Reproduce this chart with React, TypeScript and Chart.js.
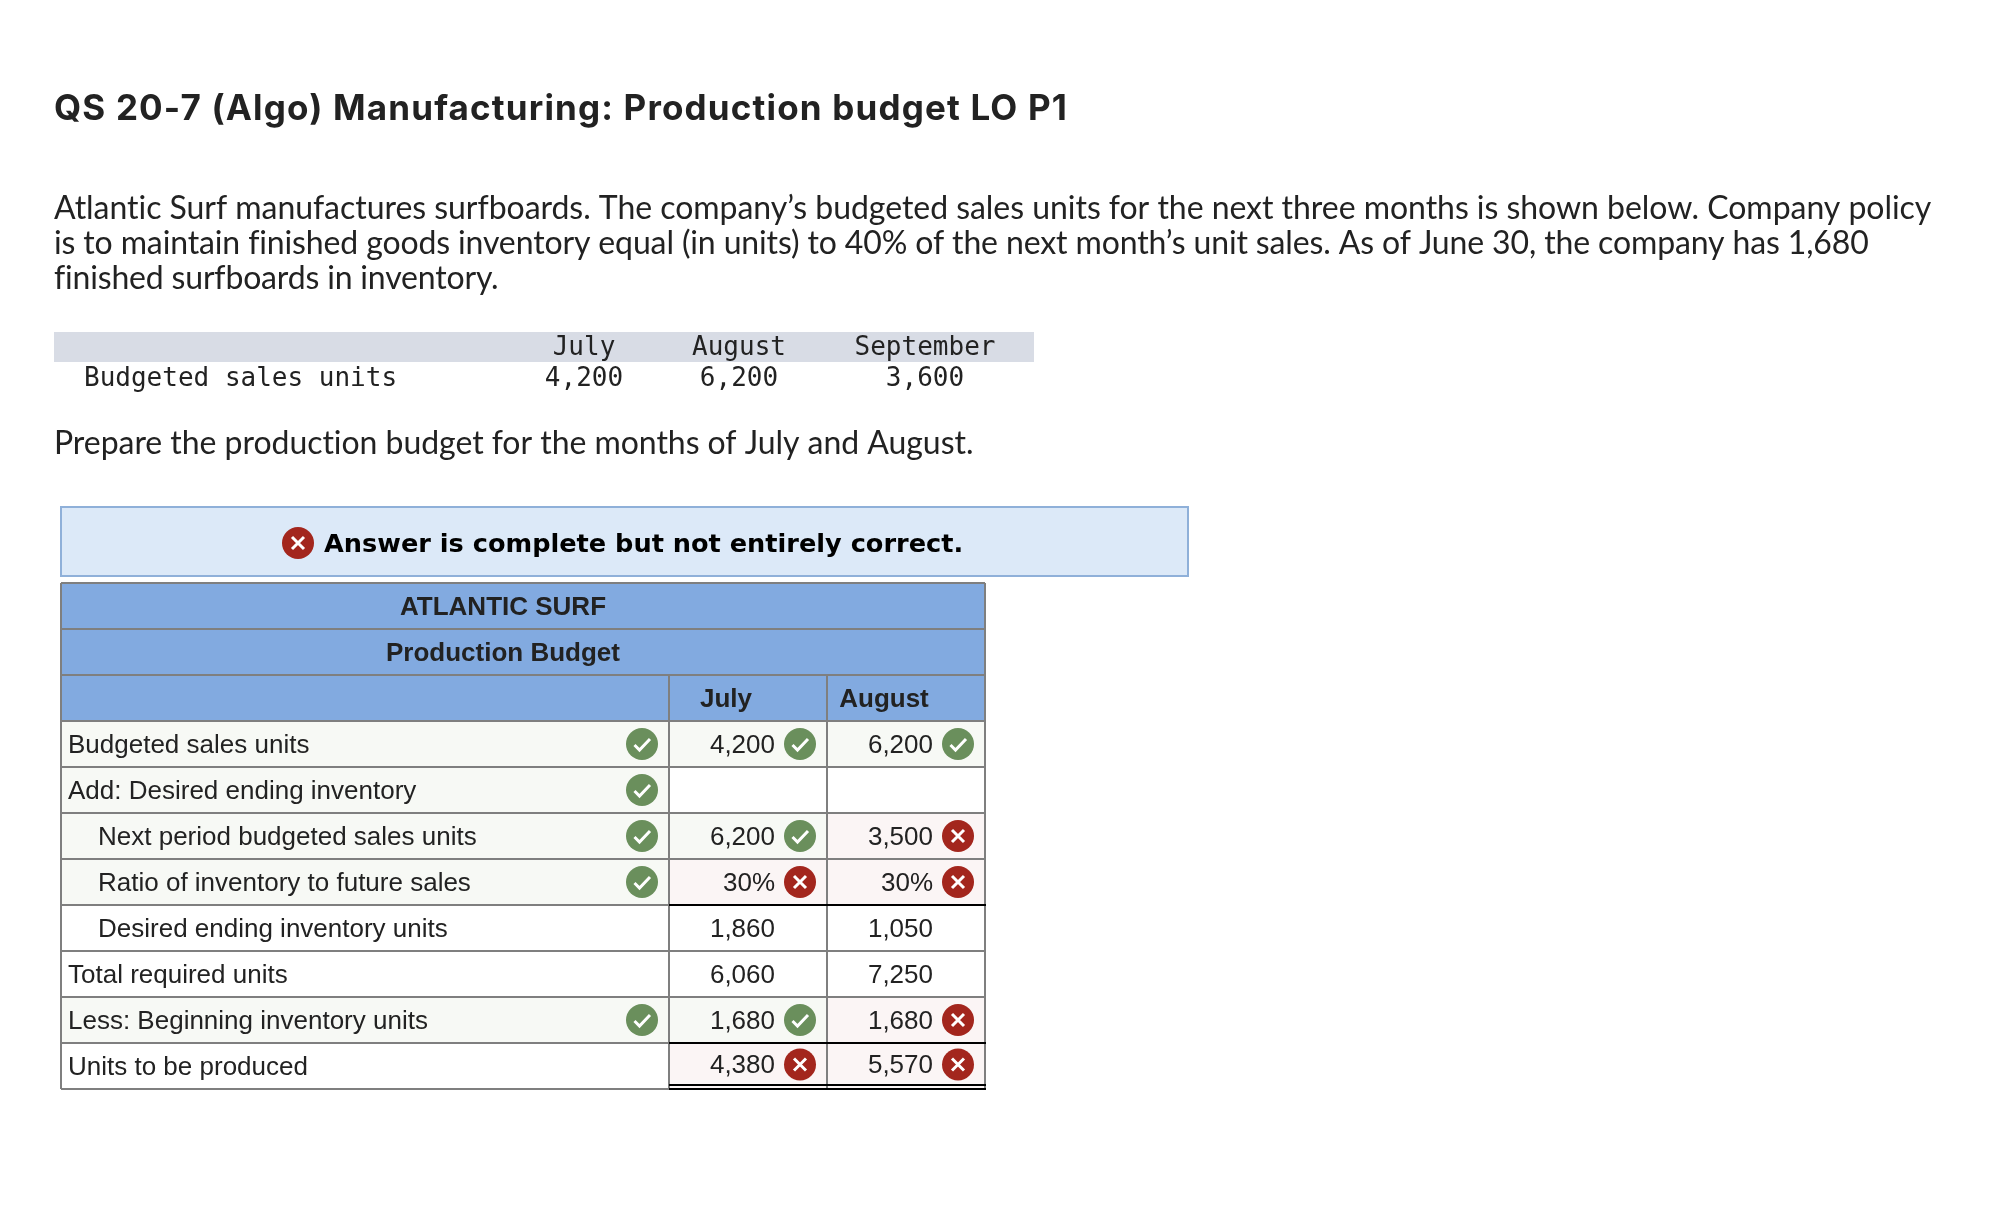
import React, { useEffect, useRef } from 'react';
import { Chart, registerables } from 'chart.js';

Chart.register(...registerables);

const title = 'QS 20-7 (Algo) Manufacturing: Production budget LO P1';
const introLines = [
  'Atlantic Surf manufactures surfboards. The company\u2019s budgeted sales units for the next three months is shown below. Company policy',
  'is to maintain finished goods inventory equal (in units) to 40% of the next month\u2019s unit sales. As of June 30, the company has 1,680',
  'finished surfboards in inventory.',
];
const prompt = 'Prepare the production budget for the months of July and August.';
const banner = 'Answer is complete but not entirely correct.';

const budgetMonths = ['July', 'August', 'September'];
const budgetLabel = 'Budgeted sales units';
const budgetUnits = ['4,200', '6,200', '3,600'];

const headerRows = ['ATLANTIC SURF', 'Production Budget', ''];
const columnHeads = ['July', 'August'];
const rowLabels = [
  'Budgeted sales units',
  'Add: Desired ending inventory',
  'Next period budgeted sales units',
  'Ratio of inventory to future sales',
  'Desired ending inventory units',
  'Total required units',
  'Less: Beginning inventory units',
  'Units to be produced',
];
const indented = [false, false, true, true, true, false, false, false];
const julyValues = ['4,200', '', '6,200', '30%', '1,860', '6,060', '1,680', '4,380'];
const augustValues = ['6,200', '', '3,500', '30%', '1,050', '7,250', '1,680', '5,570'];
// ok = green tick, bad = red cross, '' = not graded
const labelMarks = ['ok', 'ok', 'ok', 'ok', '', '', 'ok', ''];
const julyMarks = ['ok', '', 'ok', 'bad', '', '', 'ok', 'bad'];
const augustMarks = ['ok', '', 'bad', 'bad', '', '', 'bad', 'bad'];

const columnEdges = [0, 608, 766, 924];

const BLUE = '#82aae0';
const GREEN_CELL = '#f7f9f5';
const RED_CELL = '#fbf5f5';
const GREEN = '#6a8f5c';
const RED = '#a3261d';
const GREY = '#7f7f7f';
const INK = '#222222';
const PROXIMA = 'Lato, "Noto Sans", sans-serif';
const TITLE_FONT = 'Inter, Lato, sans-serif';
const TABLE_FONT = '"Liberation Sans", Arial, sans-serif';
const MONO = '"DejaVu Sans Mono", monospace';

const allRows = [...headerRows, ...rowLabels];
const cellFill = (mark: string) => (mark === 'ok' ? GREEN_CELL : mark === 'bad' ? RED_CELL : '#ffffff');

// one dataset per table column, each cell is a floating bar
function columnData(col: number) {
  return allRows.map((_, i) => {
    if (i < 2) return col === 0 ? [columnEdges[0], columnEdges[3]] : null;
    return [columnEdges[col], columnEdges[col + 1]];
  });
}
function columnFills(marks: string[]) {
  return [BLUE, BLUE, BLUE, ...marks.map(cellFill)];
}

function drawFit(ctx: CanvasRenderingContext2D, text: string, x: number, y: number, font: string, width: number, color: string) {
  ctx.font = font;
  ctx.fillStyle = color;
  ctx.textAlign = 'left';
  ctx.letterSpacing = '0px';
  const spare = (width - ctx.measureText(text).width) / text.length;
  ctx.letterSpacing = spare.toFixed(3) + 'px';
  ctx.fillText(text, x, y);
  ctx.letterSpacing = '0px';
}

function drawText(ctx: CanvasRenderingContext2D, text: string, x: number, y: number, font: string, align: CanvasTextAlign, color = INK) {
  ctx.font = font;
  ctx.fillStyle = color;
  ctx.textAlign = align;
  ctx.fillText(text, x, y);
}

function drawMark(ctx: CanvasRenderingContext2D, mark: string, x: number, y: number) {
  ctx.fillStyle = mark === 'ok' ? GREEN : RED;
  ctx.beginPath();
  ctx.arc(x, y, 16, 0, Math.PI * 2);
  ctx.fill();
  ctx.strokeStyle = '#ffffff';
  ctx.lineWidth = 3;
  ctx.lineCap = 'butt';
  ctx.beginPath();
  if (mark === 'ok') {
    ctx.moveTo(x - 7.5, y + 1);
    ctx.lineTo(x - 2.5, y + 6);
    ctx.lineTo(x + 8, y - 5);
  } else {
    ctx.moveTo(x - 6, y - 6);
    ctx.lineTo(x + 6, y + 6);
    ctx.moveTo(x + 6, y - 6);
    ctx.lineTo(x - 6, y + 6);
  }
  ctx.stroke();
}

const pagePlugin = {
  id: 'page',
  afterDraw(chart: any) {
    const ctx: CanvasRenderingContext2D = chart.ctx;
    const xs = chart.scales.x;
    const ys = chart.scales.y;
    const rowH = ys.getPixelForValue(1) - ys.getPixelForValue(0);
    const rowTop = (i: number) => ys.getPixelForValue(i) - rowH / 2;
    const edge = columnEdges.map((v) => xs.getPixelForValue(v));
    const left = edge[0];
    const right = edge[3];

    ctx.save();
    ctx.textBaseline = 'alphabetic';

    // text above the table
    drawFit(ctx, title, 54, 120, '700 35px ' + TITLE_FONT, 1014, INK);
    const introWidths = [1878, 1814, 444];
    introLines.forEach((line, i) => {
      drawFit(ctx, line, 54, 219 + i * 35, '32px ' + PROXIMA, introWidths[i], INK);
    });

    ctx.fillStyle = '#d8dce5';
    ctx.fillRect(54, 332, 980, 30);
    const monoFont = '26px ' + MONO;
    const budgetX = [584, 739, 925];
    budgetMonths.forEach((m, i) => drawText(ctx, m, budgetX[i], 355, monoFont, 'center'));
    drawText(ctx, budgetLabel, 84, 386, monoFont, 'left');
    budgetUnits.forEach((u, i) => drawText(ctx, u, budgetX[i], 386, monoFont, 'center'));

    drawFit(ctx, prompt, 54, 454, '32px ' + PROXIMA, 920, INK);

    // answer banner
    ctx.fillStyle = '#dce9f8';
    ctx.fillRect(61, 507, 1127, 69);
    ctx.strokeStyle = '#8fb0d9';
    ctx.lineWidth = 2;
    ctx.strokeRect(61, 507, 1127, 69);
    drawMark(ctx, 'bad', 298, 543);
    drawText(ctx, banner, 324, 552, 'bold 25.6px "DejaVu Sans", sans-serif', 'left', '#000000');

    // column rules below the two spanning heading rows
    ctx.strokeStyle = GREY;
    ctx.lineWidth = 2;
    ctx.beginPath();
    [left, right].forEach((x) => {
      ctx.moveTo(x, rowTop(0));
      ctx.lineTo(x, rowTop(allRows.length));
    });
    [edge[1], edge[2]].forEach((x) => {
      ctx.moveTo(x, rowTop(2));
      ctx.lineTo(x, rowTop(allRows.length));
    });
    ctx.stroke();

    // table headings
    const boldFont = 'bold 26px ' + TABLE_FONT;
    const plainFont = '26px ' + TABLE_FONT;
    const headCenter = left + 442;
    drawText(ctx, headerRows[0], headCenter, rowTop(0) + 31.5, boldFont, 'center');
    drawText(ctx, headerRows[1], headCenter, rowTop(1) + 31.5, boldFont, 'center');
    columnHeads.forEach((h, c) => {
      drawText(ctx, h, (edge[c + 1] + edge[c + 2]) / 2 - 22, rowTop(2) + 31.5, boldFont, 'center');
    });

    // table body
    rowLabels.forEach((label, r) => {
      const i = r + 3;
      const top = rowTop(i);
      const lastRow = r === rowLabels.length - 1;
      const base = top + (lastRow ? 30 : 32);
      const mid = top + (lastRow ? 21.5 : 23);
      drawText(ctx, label, left + (indented[r] ? 37 : 7), top + 32, plainFont, 'left');
      drawText(ctx, julyValues[r], edge[2] - 52, base, plainFont, 'right');
      drawText(ctx, augustValues[r], edge[3] - 52, base, plainFont, 'right');
      if (labelMarks[r]) drawMark(ctx, labelMarks[r], edge[1] - 27, top + 23);
      if (julyMarks[r]) drawMark(ctx, julyMarks[r], edge[2] - 27, mid);
      if (augustMarks[r]) drawMark(ctx, augustMarks[r], edge[3] - 27, mid);
    });

    // accounting rules under the ratio, beginning inventory and total rows
    ctx.fillStyle = '#000000';
    const ruleLeft = edge[1];
    const ruleWidth = right + 1 - ruleLeft;
    ctx.fillRect(ruleLeft, rowTop(7) - 1, ruleWidth, 2);
    ctx.fillRect(ruleLeft, rowTop(10) - 1, ruleWidth, 2);
    ctx.fillRect(ruleLeft, rowTop(11) - 5, ruleWidth, 2);
    ctx.fillRect(ruleLeft, rowTop(11) - 1, ruleWidth, 2);
    ctx.restore();
  },
};

export default function App() {
  const chartRef = useRef<HTMLCanvasElement>(null);

  useEffect(() => {
    document.body.style.margin = '0';
    if (!chartRef.current) return;
    const myChart = new Chart(chartRef.current, {
      type: 'bar',
      data: {
        labels: allRows,
        datasets: [
          { label: 'Description', data: columnData(0) as any, backgroundColor: columnFills(labelMarks) },
          { label: columnHeads[0], data: columnData(1) as any, backgroundColor: columnFills(julyMarks) },
          { label: columnHeads[1], data: columnData(2) as any, backgroundColor: columnFills(augustMarks) },
        ],
      },
      options: {
        indexAxis: 'y',
        responsive: false,
        animation: false,
        devicePixelRatio: 1,
        layout: { padding: { left: 61, right: 1005, top: 583, bottom: 129 } },
        datasets: { bar: { grouped: false, barPercentage: 1, categoryPercentage: 1 } },
        plugins: { legend: { display: false }, tooltip: { enabled: false } },
        scales: {
          x: { type: 'linear', display: false, min: columnEdges[0], max: columnEdges[3] },
          y: {
            type: 'category',
            offset: true,
            border: { display: false },
            ticks: { display: false },
            grid: { color: GREY, lineWidth: 2, drawTicks: false, offset: true, z: 1 },
          },
        },
      },
      plugins: [pagePlugin],
    } as any);

    return () => {
      myChart.destroy();
    };
  }, []);

  return (
    <div style={{ width: 1990, height: 1218, background: '#ffffff' }}>
      <canvas ref={chartRef} width={1990} height={1218} style={{ display: 'block' }}></canvas>
    </div>
  );
}
